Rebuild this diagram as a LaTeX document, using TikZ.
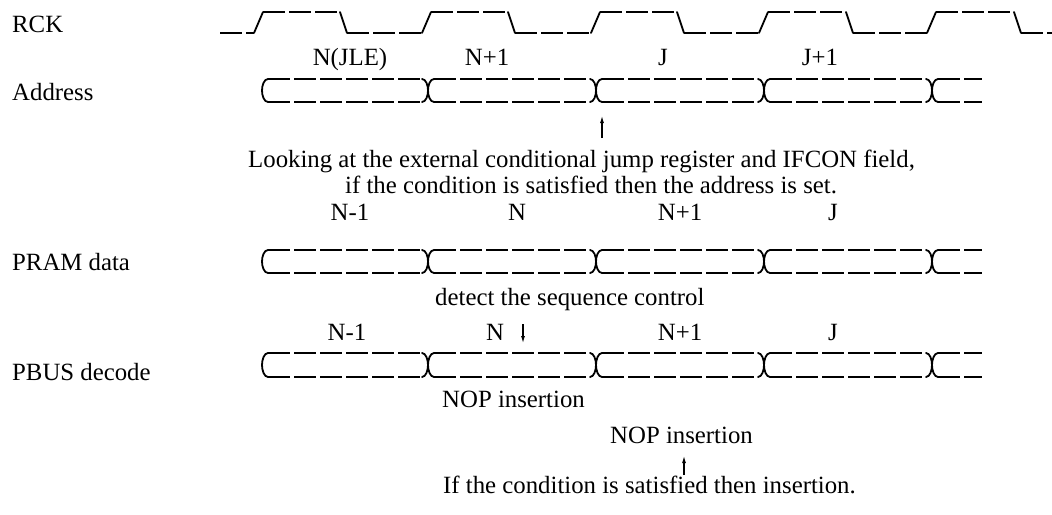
\documentclass[tikz,border=0pt]{standalone}
\usepackage{fontspec}
\setmainfont{Liberation Serif}
\usetikzlibrary{arrows.meta}
\tikzset{
  wave/.style={line width=1.8pt, dash pattern=on 22pt off 4pt},
  edge/.style={line width=1.8pt, line cap=round, line join=round},
  lbl/.style={inner sep=0pt, font=\fontsize{24.8}{30}\selectfont},
  arr/.style={line width=1.1pt, -{Latex[length=7pt,width=4pt]}}
}
\newcommand\busrowdraw[2]{%
  \pgfmathsetmacro\bm{(#1+#2)/2}%
  \foreach \a/\b in {262/428,428/596,596/764,764/932}{%
    \draw[wave] (\a+6,#1) -- (\b-6,#1);
    \draw[wave] (\a+6,#2) -- (\b-6,#2);
    \draw[edge] (\b-6,#1) .. controls (\b-2,#1) and (\b,\bm-5) .. (\b,\bm) .. controls (\b,\bm+5) and (\b-2,#2) .. (\b-6,#2);
    \draw[edge] (\a+6,#1) .. controls (\a+2,#1) and (\a,\bm-5) .. (\a,\bm) .. controls (\a,\bm+5) and (\a+2,#2) .. (\a+6,#2);
  }
  \draw[wave] (938,#1) -- (982,#1);
  \draw[wave] (938,#2) -- (982,#2);
  \draw[edge] (938,#1) .. controls (934,#1) and (932,\bm-5) .. (932,\bm) .. controls (932,\bm+5) and (934,#2) .. (938,#2);
}
\begin{document}
\begin{tikzpicture}[x=1pt,y=-1pt]
\useasboundingbox[fill=white] (0,0) rectangle (1052,514);
% left labels
\node[lbl,anchor=base west] (rck) at (12,32) {RCK};
\node[lbl,anchor=base west] (addr) at (12,100) {Address};
\node[lbl,anchor=base west] (pram) at (12,270) {PRAM data};
\node[lbl,anchor=base west] (pbus) at (12,380) {PBUS decode};
% clock
\foreach \p/\q in {220/254,347/422,515/591,684/759,853/927,1021/1052}{\draw[wave] (\p,33) -- (\q,33);}
\foreach \p/\q in {263/340,431/508,600/677,768/846,936/1014}{\draw[wave] (\p,12) -- (\q,12);}
\foreach \p/\q in {254/263,422/431,591/600,759/768,927/936}{\draw[edge] (\p,33) -- (\q,12);}
\foreach \p/\q in {340/347,508/515,677/684,846/853,1014/1021}{\draw[edge] (\p,12) -- (\q,33);}
% address
\node[lbl,anchor=base] (a1) at (350,65) {N(JLE)};
\node[lbl,anchor=base] (a2) at (487,65) {N+1};
\node[lbl,anchor=base] (a3) at (663,65) {J};
\node[lbl,anchor=base] (a4) at (820,65) {J+1};
\busrowdraw{79}{102}
\coordinate (atip) at (602,116);
\coordinate (atail) at (602,138);
\draw[arr] (atail) -- (atip);
\node[lbl,anchor=base west] (look) at (248,167) {Looking at the external conditional jump register and IFCON field,};
\node[lbl,anchor=base west] (ifc) at (345,193) {if the condition is satisfied then the address is set.};
% PRAM
\node[lbl,anchor=base] (p1) at (350,220) {N-1};
\node[lbl,anchor=base] (p2) at (517,220) {N};
\node[lbl,anchor=base] (p3) at (680,220) {N+1};
\node[lbl,anchor=base] (p4) at (833,220) {J};
\busrowdraw{250}{273}
\node[lbl,anchor=base west] (det) at (435,305) {detect the sequence control};
% PBUS
\node[lbl,anchor=base] (b1) at (347,340) {N-1};
\node[lbl,anchor=base] (b2) at (495,340) {N};
\node[lbl,anchor=base] (b3) at (680,340) {N+1};
\node[lbl,anchor=base] (b4) at (833,340) {J};
\coordinate (btail) at (523,324);
\coordinate (btip) at (523,343);
\draw[arr] (btail) -- (btip);
\busrowdraw{353}{377}
\node[lbl,anchor=base west] (nop1) at (442,407) {NOP insertion};
\node[lbl,anchor=base west] (nop2) at (610,443) {NOP insertion};
\coordinate (ctip) at (684,456);
\coordinate (ctail) at (684,475);
\draw[arr] (ctail) -- (ctip);
\node[lbl,anchor=base west] (ifi) at (443,493) {If the condition is satisfied then insertion.};
\end{tikzpicture}
\end{document}
